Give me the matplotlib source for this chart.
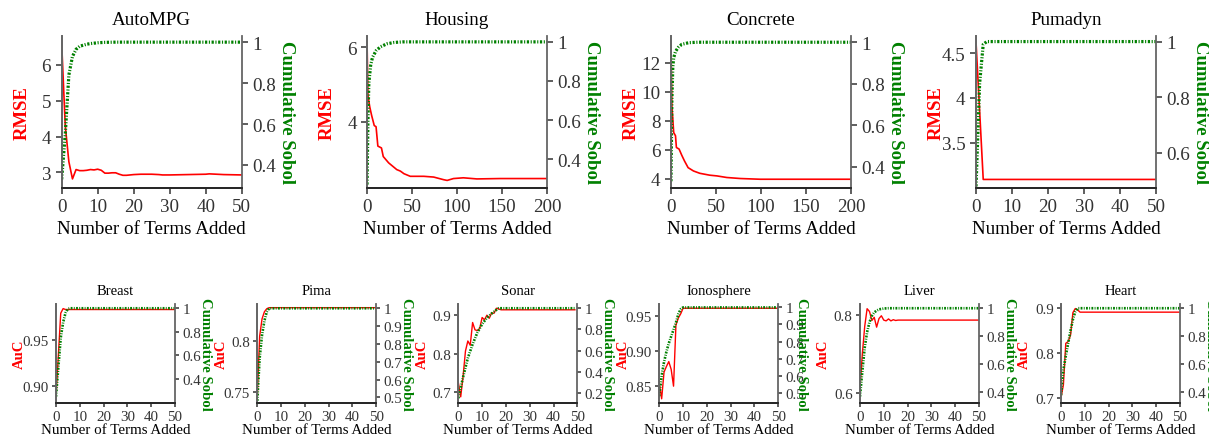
import matplotlib.pyplot as plt

plt.rcParams['font.family'] = ['Liberation Serif', 'DejaVu Serif']

# ---- regression data (RMSE + cumulative Sobol) ----
mpg_terms = [0, 1, 2, 3, 4, 5, 6, 7, 8, 9, 10, 11, 12, 13, 14, 15, 16, 17, 18,
             20, 22, 25, 27, 28, 30, 35, 40, 41, 45, 50]
mpg_rmse = [6.6, 4.3, 3.3, 2.82, 3.08, 3.05, 3.05, 3.06, 3.08, 3.07, 3.09, 3.06,
            2.98, 2.98, 2.99, 2.99, 2.95, 2.92, 2.92, 2.94, 2.95, 2.95, 2.94,
            2.93, 2.93, 2.94, 2.95, 2.96, 2.94, 2.93]
mpg_sobol_terms = [0, 1, 2, 3, 4, 5, 6, 7, 8, 10, 12, 15, 50]
mpg_sobol = [0.33, 0.55, 0.84, 0.93, 0.965, 0.98, 0.985, 0.99, 0.993, 0.997,
             0.999, 1.0, 1.0]

housing_terms = [0, 1, 3, 5, 8, 10, 12, 16, 18, 24, 33, 37, 41, 48, 63, 74, 85,
                 89, 96, 107, 122, 148, 200]
housing_rmse = [6.13, 4.7, 4.4, 4.18, 3.9, 3.87, 3.35, 3.3, 3.07, 2.9, 2.72,
                2.68, 2.61, 2.54, 2.54, 2.52, 2.45, 2.43, 2.48, 2.5, 2.47, 2.48,
                2.48]
housing_sobol_terms = [0, 1, 2, 4, 6, 10, 15, 22, 30, 40, 200]
housing_sobol = [0.27, 0.6, 0.79, 0.88, 0.92, 0.955, 0.975, 0.99, 0.997, 1.0, 1.0]

concrete_terms = [0, 1, 3, 5, 6, 9, 12, 15, 19, 25, 32, 43, 51, 62, 77, 99, 200]
concrete_rmse = [13.4, 9.0, 7.17, 6.95, 6.14, 6.03, 5.6, 5.21, 4.75, 4.52, 4.36,
                 4.23, 4.18, 4.07, 4.0, 3.95, 3.95]
concrete_sobol_terms = [0, 1, 2, 3, 5, 8, 12, 20, 30, 200]
concrete_sobol = [0.33, 0.72, 0.88, 0.925, 0.955, 0.975, 0.99, 0.998, 1.0, 1.0]

pumadyn_terms = [0, 2, 50]
pumadyn_rmse = [4.62, 3.09, 3.09]
pumadyn_sobol_terms = [0, 1, 2, 3, 50]
pumadyn_sobol = [0.48, 0.85, 0.99, 1.0, 1.0]

# ---- classification data (AuC + cumulative Sobol) ----
breast_terms = [0, 2, 3, 4, 50]
breast_auc = [0.887, 0.979, 0.984, 0.983, 0.983]
breast_sobol_terms = [0, 1, 2, 3, 4, 5, 6, 50]
breast_sobol = [0.25, 0.5, 0.75, 0.88, 0.96, 0.995, 1.0, 1.0]

pima_terms = [0, 1, 2, 3, 4, 5, 50]
pima_auc = [0.745, 0.805, 0.822, 0.829, 0.832, 0.833, 0.833]
pima_sobol_terms = [0, 1, 2, 3, 4, 5, 50]
pima_sobol = [0.48, 0.72, 0.85, 0.93, 0.98, 1.0, 1.0]

sonar_terms = [0, 1, 2, 3, 4, 5, 6, 7, 8, 9, 10, 11, 12, 13, 14, 15, 16, 17, 18, 49]
sonar_auc = [0.725, 0.688, 0.742, 0.807, 0.833, 0.822, 0.881, 0.862, 0.86, 0.866,
             0.894, 0.888, 0.9, 0.892, 0.906, 0.905, 0.918, 0.916, 0.914, 0.914]
sonar_sobol_terms = [0, 1, 2, 4, 6, 8, 10, 12, 14, 16, 17, 49]
sonar_sobol = [0.15, 0.25, 0.35, 0.53, 0.66, 0.77, 0.85, 0.91, 0.95, 0.985, 1.0, 1.0]

iono_terms = [0, 1, 2, 3, 4, 5, 6, 7, 8, 9, 10, 50]
iono_auc = [0.855, 0.832, 0.87, 0.878, 0.885, 0.874, 0.85, 0.937, 0.947, 0.953,
            0.961, 0.961]
iono_sobol_terms = [0, 1, 2, 3, 4, 5, 6, 7, 8, 9, 10, 50]
iono_sobol = [0.48, 0.6, 0.68, 0.74, 0.79, 0.83, 0.87, 0.91, 0.96, 0.99, 1.0, 1.0]

liver_terms = [0, 1, 2, 3, 4, 5, 6, 7, 8, 9, 10, 11, 12, 13, 14, 15, 16, 50]
liver_auc = [0.61, 0.70, 0.77, 0.815, 0.808, 0.785, 0.793, 0.768, 0.79, 0.797,
             0.786, 0.784, 0.789, 0.784, 0.787, 0.785, 0.786, 0.786]
liver_sobol_terms = [0, 1, 2, 3, 4, 5, 6, 7, 8, 10, 12, 50]
liver_sobol = [0.37, 0.55, 0.72, 0.83, 0.9, 0.945, 0.97, 0.983, 0.992, 0.998, 1.0, 1.0]

heart_terms = [0, 1, 2, 3, 4, 5, 6, 7, 8, 50]
heart_auc = [0.702, 0.73, 0.822, 0.826, 0.84, 0.89, 0.899, 0.896, 0.891, 0.891]
heart_sobol_terms = [0, 1, 2, 3, 4, 5, 6, 7, 50]
heart_sobol = [0.38, 0.56, 0.66, 0.75, 0.84, 0.92, 0.975, 1.0, 1.0]


fig = plt.figure(figsize=(12.09, 4.39), dpi=100)


def panel(rect, title, terms, metric, s_terms, sobol, metric_name, xmax, xticks,
          ylim1, yt1, yl1, ylim2, yt2, yl2, big, rlab_x=1.2):
    if big:
        fs, lw_r, lw_g, tpad, lab_x, tlen, tp, xpad = 13.7, 1.2, 2.3, 9, -0.172, 4, 3.5, 4
    else:
        fs, lw_r, lw_g, tpad, lab_x, tlen, tp, xpad = 10.8, 1.0, 1.9, 7, -0.25, 3, 2.2, 0
    ax = fig.add_axes(rect)
    ax.plot(terms, metric, color='red', lw=lw_r)
    ax2 = ax.twinx()
    ax2.plot(s_terms, sobol, color='green', lw=lw_g,
             linestyle=(0, (0.7, 0.5, 0.35, 0.5)))

    ax.set_xlim(0, xmax)
    ax.set_xticks(xticks)
    ax.set_ylim(*ylim1)
    ax.set_yticks(yt1)
    ax.set_yticklabels(yl1)
    ax2.set_ylim(*ylim2)
    ax2.set_yticks(yt2)
    ax2.set_yticklabels(yl2)

    for a in (ax, ax2):
        a.spines['top'].set_visible(False)
        a.tick_params(labelsize=fs, colors='0.2', length=tlen, width=1.1, pad=tp)
        a.spines['left'].set_color('0.4')
        a.spines['right'].set_color('0.4')
        a.spines['bottom'].set_color('0.15')
        for s in a.spines.values():
            s.set_linewidth(1.3)
    ax.spines['right'].set_visible(False)

    ax.set_title(title, fontsize=fs - (0 if big else 0.3), pad=tpad)
    ax.set_xlabel("Number of Terms Added", fontsize=fs, labelpad=xpad)
    ax.set_ylabel(metric_name, color='red', fontsize=fs - 0.2, fontweight='bold')
    ax.yaxis.set_label_coords(lab_x, 0.5)
    ax2.set_ylabel("Cumulative Sobol", color='green', fontsize=fs - 0.2,
                   fontweight='bold', rotation=270, va='bottom')
    ax2.yaxis.set_label_coords(rlab_x, 0.5)


sob4 = [0.4, 0.6, 0.8, 1.0]
sob4_l = ["0.4", "0.6", "0.8", "1"]
x50 = [0, 10, 20, 30, 40, 50]
x200 = [0, 50, 100, 150, 200]

top_b, top_h, top_w = 0.5706, 0.3451, 0.1489
panel([0.0510, top_b, top_w, top_h], "AutoMPG", mpg_terms, mpg_rmse,
      mpg_sobol_terms, mpg_sobol, "RMSE", 50, x50,
      (2.58, 6.8), [3, 4, 5, 6], ["3", "4", "5", "6"],
      (0.29, 1.03), sob4, sob4_l, True)
panel([0.3036, top_b, top_w, top_h], "Housing", housing_terms, housing_rmse,
      housing_sobol_terms, housing_sobol, "RMSE", 200, x200,
      (2.24, 6.3), [4, 6], ["4", "6"],
      (0.255, 1.03), sob4, sob4_l, True)
panel([0.5550, top_b, top_w, top_h], "Concrete", concrete_terms, concrete_rmse,
      concrete_sobol_terms, concrete_sobol, "RMSE", 200, x200,
      (3.38, 13.83), [4, 6, 8, 10, 12], ["4", "6", "8", "10", "12"],
      (0.30, 1.03), sob4, sob4_l, True)
panel([0.8073, top_b, top_w, top_h], "Pumadyn", pumadyn_terms, pumadyn_rmse,
      pumadyn_sobol_terms, pumadyn_sobol, "RMSE", 50, x50,
      (3.0, 4.69), [3.5, 4, 4.5], ["3.5", "4", "4.5"],
      (0.476, 1.02), [0.6, 0.8, 1.0], ["0.6", "0.8", "1"], True)

bot_b, bot_h, bot_w = 0.0797, 0.2255, 0.0984
sob_tenths = [0.5, 0.6, 0.7, 0.8, 0.9, 1.0]
sob_tenths_l = ["0.5", "0.6", "0.7", "0.8", "0.9", "1"]
panel([0.0463, bot_b, bot_w, bot_h], "Breast", breast_terms, breast_auc,
      breast_sobol_terms, breast_sobol, "AuC", 50, x50,
      (0.881, 0.989), [0.90, 0.95], ["0.90", "0.95"],
      (0.196, 1.036), sob4, sob4_l, False)
panel([0.2128, bot_b, bot_w, bot_h], "Pima", pima_terms, pima_auc,
      pima_sobol_terms, pima_sobol, "AuC", 50, x50,
      (0.7395, 0.8366), [0.75, 0.8], ["0.75", "0.8"],
      (0.468, 1.024), sob_tenths, sob_tenths_l, False)
panel([0.3791, bot_b, bot_w, bot_h], "Sonar", sonar_terms, sonar_auc,
      sonar_sobol_terms, sonar_sobol, "AuC", 50, x50,
      (0.672, 0.929), [0.7, 0.8, 0.9], ["0.7", "0.8", "0.9"],
      (0.105, 1.04), [0.2, 0.4, 0.6, 0.8, 1.0], ["0.2", "0.4", "0.6", "0.8", "1"],
      False)
panel([0.5453, bot_b, bot_w, bot_h], "Ionosphere", iono_terms, iono_auc,
      iono_sobol_terms, iono_sobol, "AuC", 50, x50,
      (0.826, 0.967), [0.85, 0.90, 0.95], ["0.85", "0.90", "0.95"],
      (0.44, 1.02), sob_tenths, sob_tenths_l, False, rlab_x=1.14)
panel([0.7113, bot_b, bot_w, bot_h], "Liver", liver_terms, liver_auc,
      liver_sobol_terms, liver_sobol, "AuC", 50, x50,
      (0.5745, 0.827), [0.6, 0.8], ["0.6", "0.8"],
      (0.324, 1.03), sob4, sob4_l, False)
panel([0.8776, bot_b, bot_w, bot_h], "Heart", heart_terms, heart_auc,
      heart_sobol_terms, heart_sobol, "AuC", 50, x50,
      (0.69, 0.909), [0.7, 0.8, 0.9], ["0.7", "0.8", "0.9"],
      (0.324, 1.03), sob4, sob4_l, False)

fig.savefig("out.png", dpi=100)
